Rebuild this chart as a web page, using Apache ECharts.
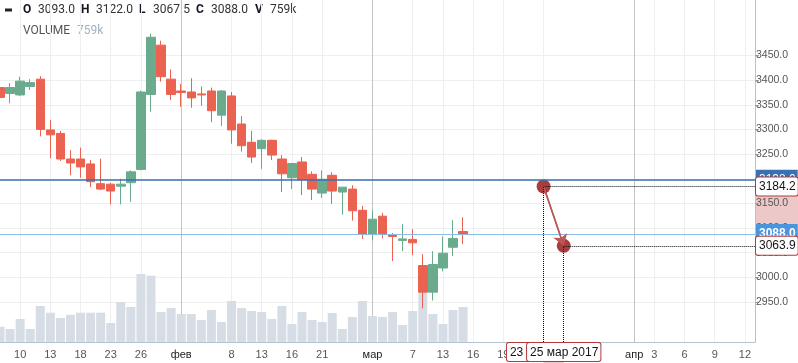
<!DOCTYPE html>
<html><head><meta charset="utf-8">
<script src="https://cdn.jsdelivr.net/npm/echarts/dist/echarts.min.js"></script>
<style>html,body{margin:0;padding:0;background:#fff}#c{width:798px;height:363px}</style>
</head><body><div id="c"></div>
<script>
// ---------- data ----------
const categories = [
 '06.01','09.01','10.01','11.01','12.01','13.01','16.01','17.01','18.01','19.01','20.01','23.01','24.01','25.01','26.01','27.01','30.01','31.01',
 '01.02','02.02','03.02','06.02','07.02','08.02','09.02','10.02','13.02','14.02','15.02','16.02','17.02','20.02','21.02','22.02','24.02','27.02','28.02',
 '01.03','02.03','03.03','06.03','07.03','09.03','10.03','13.03','14.03','15.03',
 '16.03','17.03','18.03','19.03','20.03','21.03','22.03','23.03','24.03','25.03','26.03','27.03','28.03','29.03','30.03','31.03',
 '01.04','02.04','03.04','04.04','05.04','06.04','07.04','08.04','09.04','10.04','11.04','12.04','13.04'
];
const opens  = [3385,3373,3370,3387,3402,3299,3292,3240,3240,3230,3190,3189,3185,3192,3219,3371,3471,3402,3378,3376,3372,3378,3329,3368,3311,3274,3261,3278,3240,3202,3234,3209,3171,3207,3173,3179,3136,3087,3124,3086,3075,3077,3024,2970,3019,3061,3093];
const closes = [3365,3385,3398,3395,3300,3289,3240,3232,3224,3194,3179,3175,3189,3214,3376,3487,3407,3371,3375,3364,3370,3338,3378,3299,3267,3244,3278,3248,3210,3231,3198,3179,3199,3175,3183,3135,3087,3118,3087,3083,3078,3070,2970,3026,3049,3079,3088];
const lows   = [3357,3353,3368,3380,3286,3242,3236,3207,3202,3183,3177,3148,3148,3153,3217,3336,3397,3360,3346,3344,3348,3315,3307,3271,3255,3232,3220,3238,3173,3179,3167,3157,3161,3149,3127,3115,3078,3075,3079,3033,3053,3045,2937,2953,3012,3043,3067.5];
const highs  = [3392,3394,3407,3402,3408,3319,3297,3258,3263,3238,3241,3192,3200,3217,3379,3494,3480,3422,3392,3404,3387,3385,3380,3376,3327,3297,3280,3279,3248,3232,3244,3215,3217,3213,3183,3187,3145,3136,3131,3090,3108,3098,3047,3053,3083,3116,3122];
const volumes = [332,282,499,282,781,636,521,592,636,636,636,412,868,759,1475,1439,651,738,608,608,477,694,434,890,738,673,651,499,781,391,651,477,434,629,282,543,890,564,543,651,369,673,1085,608,391,694,759];

const tickLabels = ['10.01','13.01','18.01','23.01','26.01','01.02','08.02','13.02','16.02','21.02','01.03','07.03','13.03','16.03','19.03','01.04','03.04','06.04','09.04','12.04'];
const gridOnlyTicks = ['23.03'];
const monthStarts = ['01.02','01.03','01.04'];
const monthNames = ['янв','фев','мар','апр'];
const priceTicks = {min: 2950, max: 3450, step: 50};

const levelLine = 3198;      // horizontal line
const lastPrice = 3088;      // current price line
const highMark = ['27.01', 3494];
const lowMark  = ['09.03', 2937];
const drawA = ['23.03', 3184.2];
const drawB = ['25.03', 3063.9];

// ---------- helpers ----------
const FONT = '"Liberation Sans", Arial, sans-serif';
const HFONT = 'Roboto, "Liberation Sans", sans-serif';
function fmtDate(c){ const p=c.split('.'); return p[0]==='01' ? monthNames[+p[1]-1] : String(+p[0]); }
function fullDate(c){ const p=c.split('.'); return (+p[0]) + ' ' + monthNames[+p[1]-1] + ' 2017'; }
const last = categories[categories.length-1];
const n = opens.length;
const ohlc = opens.map((o,i)=>[o, closes[i], lows[i], highs[i]]);

const PG = {top: 55.5, height: 246.5};   // price grid placement
const AXIS_Y = 342;

const boxLabel = {
  show: true, distance: 1,
  backgroundColor: '#fff', borderColor: '#b23a3a', borderWidth: 1, borderRadius: 2,
  padding: [4, 2, 2, 3], lineHeight: 12, color: '#151515', fontSize: 12, fontFamily: FONT
};
const dotted = {color: '#111', type: 'dotted', width: 1};

const chart = echarts.init(document.getElementById('c'), null, {renderer: 'canvas'});

const hdrY = 10;
const header = [
  {type:'rect', shape:{x:5, y:hdrY-1.5, width:7, height:3}, style:{fill:'#222'}},
];
const hdrItems = [
  ['O', 23, true], [opens[n-1].toFixed(1), 38, false],
  ['H', 81, true], [highs[n-1].toFixed(1), 96, false],
  ['L', 139, true], [lows[n-1].toFixed(1), 153, false],
  ['C', 196, true], [closes[n-1].toFixed(1), 211, false],
  ['V', 255, true], [volumes[n-1] + 'k', 270, false]
];
hdrItems.forEach(([t,x,b])=>{
  header.push({type:'text', x:x, y:hdrY, style:{text:t, fill: b ? '#131722' : '#333', font:(b?'bold ':'') + '12px ' + HFONT, verticalAlign:'middle'}});
});
header.push({type:'text', x:23, y:31, style:{text:'VOLUME', fill:'#555', font:'12px ' + HFONT, verticalAlign:'middle'}});
header.push({type:'text', x:77, y:31, style:{text: volumes[n-1] + 'k', fill:'#9db3c8', font:'12px ' + HFONT, verticalAlign:'middle'}});

const option = {
  animation: false,
  textStyle: {fontFamily: FONT},
  grid: [
    {left: 0, top: 0, width: 755, height: AXIS_Y},
    {left: 0, top: PG.top, width: 755, height: PG.height}
  ],
  xAxis: [
    {type:'category', gridIndex:0, data:categories, boundaryGap:false,
     axisLine:{lineStyle:{color:'#b4c3d2'}}, axisTick:{show:false},
     axisLabel:{interval:(i,v)=>tickLabels.includes(v), formatter:fmtDate,
       color:(v)=>monthStarts.includes(v)?'#222':'#555', fontSize:11, margin:7},
     splitLine:{show:true, interval:(i,v)=>(tickLabels.includes(v)||gridOnlyTicks.includes(v)) && !monthStarts.includes(v),
       lineStyle:{color:'#efefef', width:1}}},
    {type:'category', gridIndex:1, data:categories, boundaryGap:false, show:false},
    {type:'category', gridIndex:0, data:categories, boundaryGap:false,
     axisLine:{show:false}, axisTick:{show:false}, axisLabel:{show:false},
     splitLine:{show:true, interval:(i,v)=>monthStarts.includes(v), lineStyle:{color:'#c4c4c4', width:1}}}
  ],
  yAxis: [
    {type:'value', gridIndex:0, min:0, max:7420, position:'right',
     axisLine:{show:true, lineStyle:{color:'#b4c3d2'}}, axisTick:{show:false}, axisLabel:{show:false}, splitLine:{show:false}},
    {type:'value', gridIndex:1, min:priceTicks.min, max:priceTicks.max, interval:priceTicks.step, position:'right',
     axisLine:{show:false}, axisTick:{show:true, length:4, lineStyle:{color:'#9aa5b1'}},
     axisLabel:{formatter:(v)=>v.toFixed(1), color:'#555', fontSize:10.5, margin:1},
     splitLine:{lineStyle:{color:'#efefef'}}}
  ],
  series: [
    {type:'bar', xAxisIndex:0, yAxisIndex:0, data:volumes, barWidth:9,
     itemStyle:{color:'#d6dde4'}, silent:true},
    {type:'candlestick', xAxisIndex:1, yAxisIndex:1, data:ohlc, barWidth:9, clip:false,
     itemStyle:{color:'#6aab8e', color0:'#eb6250', borderColor:'#6aab8e', borderColor0:'#eb6250', borderWidth:1},
     markPoint:{symbol:'circle', symbolSize:0, silent:true,
       label:{show:true, color:'#444', fontSize:11, fontFamily:FONT},
       data:[
         {coord:highMark, label:{position:'right', distance:2, formatter:'← ' + highMark[1].toFixed(1)}},
         {coord:lowMark, label:{position:'left', distance:3, formatter: lowMark[1].toFixed(1) + ' →'}}
       ]},
     markLine:{symbol:['none','none'], silent:true,
       data:[
         {yAxis:levelLine, lineStyle:{color:'#3a6fb2', width:1.5, type:'solid', opacity:1},
          label:{show:true, position:'end', distance:1, formatter:levelLine.toFixed(1), backgroundColor:'#3a6fb2',
            color:'#fff', padding:[5,2,3,3], lineHeight:12, fontSize:12, fontFamily:FONT}},
         {yAxis:lastPrice, lineStyle:{color:'#8dbbe6', width:1, type:'solid', opacity:1},
          label:{show:true, position:'end', distance:1, formatter:lastPrice.toFixed(1), backgroundColor:'#4b95dd',
            color:'#fff', fontWeight:'bold', padding:[5,2,3,3], lineHeight:12, fontSize:12, fontFamily:FONT}}
       ]}
    },
    {type:'line', xAxisIndex:1, yAxisIndex:1, z:4, clip:false, data:[drawA, drawB], showAllSymbol:true,
     symbol:'circle', symbolSize:14, itemStyle:{color:'#ab3c3c'}, lineStyle:{color:'#bf5656', width:1.5},
     markLine:{symbol:'none', silent:true,
       data:[
         [{coord:drawA, lineStyle:dotted, label:Object.assign({}, boxLabel, {position:'end', formatter:drawA[1].toFixed(1)})}, {coord:[last, drawA[1]]}],
         [{coord:drawB, lineStyle:dotted, label:Object.assign({}, boxLabel, {position:'end', formatter:drawB[1].toFixed(1)})}, {coord:[last, drawB[1]]}],
         [{coord:drawA, symbol:'none', lineStyle:{color:'#bf5656', width:1.5, type:'solid'}, label:{show:false}},
          {coord:drawB, symbol:'arrow', symbolSize:11}]
       ]}
    }
  ],
  graphic: header
};
chart.setOption(option);

// vertical guides + time labels and pink ranges, placed through the chart's own scales
const pa = chart.convertToPixel({xAxisIndex:1, yAxisIndex:1}, drawA);
const pb = chart.convertToPixel({xAxisIndex:1, yAxisIndex:1}, drawB);
const vA = chart.convertFromPixel({xAxisIndex:0, yAxisIndex:0}, pa)[1];
const vB = chart.convertFromPixel({xAxisIndex:0, yAxisIndex:0}, pb)[1];
chart.setOption({
  series: [{
    markLine:{symbol:'none', silent:true,
      data:[
        [{coord:[drawA[0], 0], lineStyle:dotted, label:Object.assign({}, boxLabel, {position:'start', formatter:fullDate(drawA[0])})}, {coord:[drawA[0], vA]}],
        [{coord:[drawB[0], 0], lineStyle:dotted, label:Object.assign({}, boxLabel, {position:'start', formatter:fullDate(drawB[0])})}, {coord:[drawB[0], vB]}]
      ]}
  }],
  graphic: header.concat([
    {type:'rect', z:-1, shape:{x:756, y:pa[1], width:42, height:pb[1]-pa[1]}, style:{fill:'#ecc9c8'}},
    {type:'rect', z:-1, shape:{x:pa[0], y:AXIS_Y+1, width:pb[0]-pa[0], height:20}, style:{fill:'#ecc9c8'}}
  ])
});
</script></body></html>
